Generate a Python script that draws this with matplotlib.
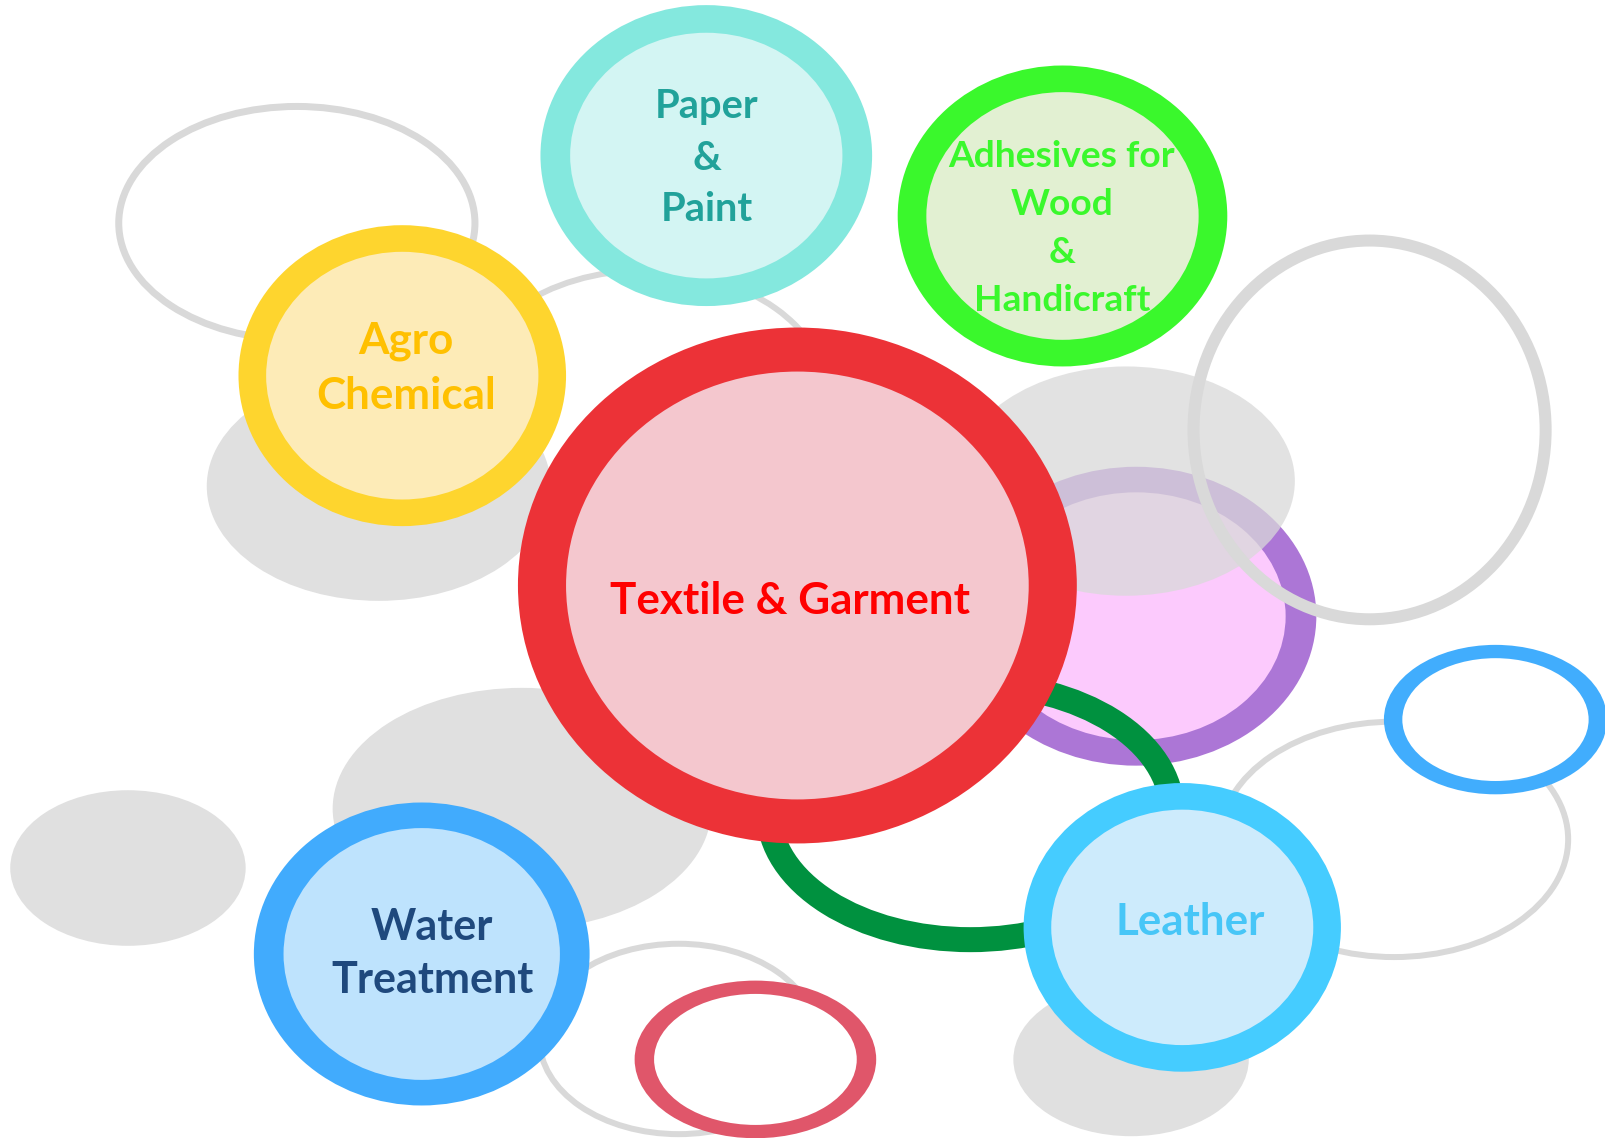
import matplotlib.pyplot as plt
from matplotlib.patches import Ellipse

# labels of the sectors
labels = ["Textile & Garment", "Agro\nChemical", "Paper\n&\nPaint",
          "Adhesives for\nWood\n&\nHandicraft", "Water\nTreatment", "Leather"]
label_colors = ['#ff0000', '#ffc000', '#21a29a', '#3af82c', '#1f497d', '#47c6f7']

W, H = 1605, 1138
S = 1605 / 1568.  # shapes were read at 1568 wide

fig = plt.figure(figsize=(W / 100, H / 100), dpi=100)
ax = fig.add_axes([0, 0, 1, 1])
ax.set_xlim(0, W)
ax.set_ylim(H, 0)
ax.axis('off')

def px2pt(p):
    return p * 72. / 100.

def blob(cx, cy, rx, ry, color, alpha=1.0, z=1):
    ax.add_patch(Ellipse((cx * S, cy * S), 2 * rx * S, 2 * ry * S, fc=color, ec='none', alpha=alpha, zorder=z))

def ring(cx, cy, rx, ry, color, lw, z=1):
    ax.add_patch(Ellipse((cx * S, cy * S), 2 * rx * S, 2 * ry * S, fill=False, ec=color, lw=px2pt(lw), zorder=z))

def bubble(cx, cy, rx, ry, rx2, ry2, ring_c, fill_c, z=5):
    blob(cx, cy, rx, ry, ring_c, z=z)
    blob(cx, cy, rx2, ry2, fill_c, z=z + 0.1)

gray = '#e0e0e0'
gline = '#d9d9d9'

# grey background shapes
blob(125, 848, 115, 76, gray, z=1)
blob(510, 790, 185, 118, gray, z=1)
blob(1105, 1035, 115, 75, gray, z=1)
blob(370, 475, 168, 112, gray, z=1.2)
ring(290, 218, 174, 114, gline, 7, z=1.1)
ring(631, 391, 179, 127, gline, 6, z=1.1)
ring(663, 1015, 136, 93, gline, 6, z=1.1)
ring(1362, 820, 170, 115, gline, 6, z=1.1)

# purple bubble with grey overlay
bubble(1110, 602, 176, 146, 146, 121, '#ac76d6', '#fccafd', z=2)
blob(1100, 470, 165, 112, '#d9d9d9', alpha=0.75, z=2.5)
ring(1338, 420, 172, 185, gline, 12, z=2.6)

# green arc ring
ring(948, 793, 197, 125, '#00913f', 25, z=3)

# small hollow rings
bubble(738, 1035, 118, 77, 99, 64, '#e0566a', 'white', z=3.2)
bubble(1461, 703, 109, 73, 91, 60, '#41adfd', 'white', z=3.2)

# main bubbles
bubble(393, 367, 160, 147, 133, 121, '#fed52e', '#fdebb7', z=5)
bubble(690, 152, 162, 147, 133, 120, '#84e8de', '#d3f5f3', z=5)
bubble(1038, 211, 161, 147, 133, 121, '#3af82c', '#e2f0d2', z=5)
bubble(412, 932, 164, 148, 135, 123, '#41abfd', '#bee3fd', z=5)
bubble(1155, 906, 155, 141, 128, 115, '#45ccff', '#cdebfc', z=5)
bubble(779, 572, 273, 252, 226, 209, '#ec3237', '#f4c7ce', z=6)

# text: centre x, first baseline, line step, font size (full-size pixels)
fnt = 'Lato'
txt_pos = [(790, 614, 0, 31.7), (406, 353, 56, 31.7), (707, 118, 51.5, 28.7),
           (1062, 167, 48, 26.7), (432, 940, 53, 31.1), (1190, 935, 0, 31.7)]
for s, c, (x, y0, step, fs) in zip(labels, label_colors, txt_pos):
    for i, line in enumerate(s.split('\n')):
        ax.text(x, y0 + i * step, line, color=c, fontsize=fs, fontfamily=fnt, fontweight='bold',
                ha='center', va='baseline', zorder=10)

fig.savefig('out.png', dpi=100)
